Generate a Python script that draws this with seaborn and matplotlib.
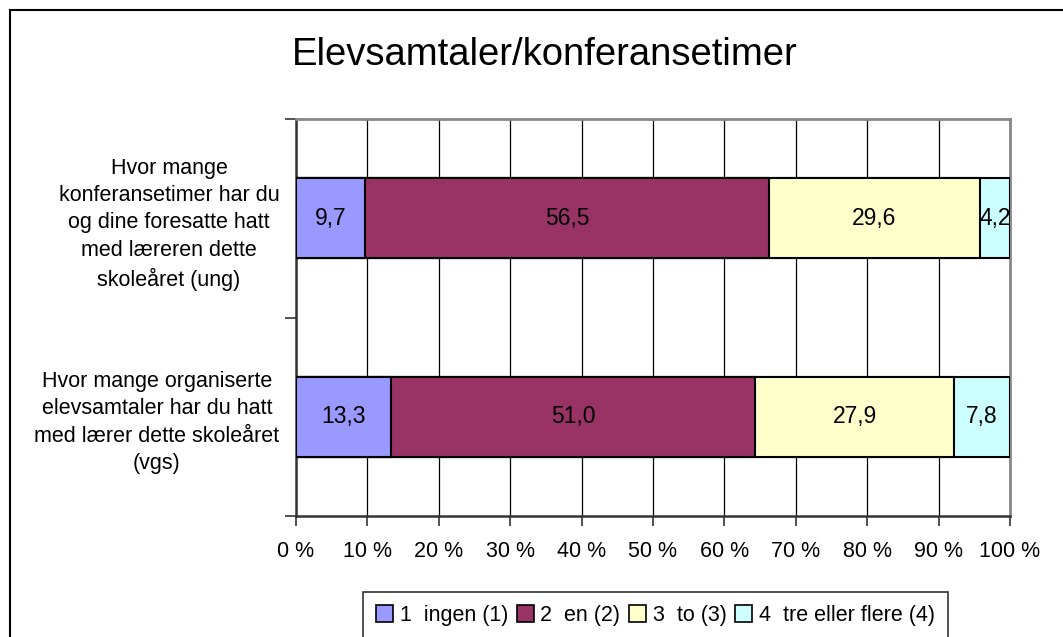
import numpy as np
import pandas as pd
import matplotlib.pyplot as plt
import matplotlib.patches as mpatches
import seaborn as sns

questions = [
    "Hvor mange\nkonferansetimer har du\nog dine foresatte hatt\nmed læreren dette\nskoleåret (ung)",
    "Hvor mange organiserte\nelevsamtaler har du hatt\nmed lærer dette skoleåret\n(vgs)",
]
answers = ["1  ingen (1)", "2  en (2)", "3  to (3)", "4  tre eller flere (4)"]
ingen = [9.7, 13.3]
en = [56.5, 51.0]
to = [29.6, 27.9]
tre = [4.2, 7.8]
colors = ["#9999FF", "#993366", "#FFFFCC", "#CCFFFF"]
xticks = [0, 10, 20, 30, 40, 50, 60, 70, 80, 90, 100]

sns.set_theme(style="white")
plt.rcParams['font.family'] = ['Liberation Sans', 'DejaVu Sans']
plt.rcParams['text.color'] = 'black'
plt.rcParams['xtick.color'] = 'black'
plt.rcParams['ytick.color'] = 'black'

values = np.array([ingen, en, to, tre])
cum = values.cumsum(axis=0)
df = pd.DataFrame({"question": np.tile(questions, 4),
                   "answer": np.repeat(answers, 2),
                   "value": values.ravel(),
                   "cum": cum.ravel()})

fig = plt.figure(figsize=(10.63, 6.37), dpi=100)
ax = fig.add_axes([296 / 1063, 1 - 516 / 637, (1010 - 296) / 1063, (516 - 119) / 637])

# stacked bars: draw cumulative totals from the largest down
for k in reversed(range(len(answers))):
    sub = df[df["answer"] == answers[k]]
    sns.barplot(data=sub, x="cum", y="question", color=colors[k], orient="h",
                width=0.405, edgecolor="black", linewidth=1.5, saturation=1,
                ax=ax, zorder=3)

for k in range(len(answers)):
    for i in range(len(questions)):
        v = values[k, i]
        mid = cum[k, i] - v / 2
        ax.text(mid, i, f"{v:.1f}".replace(".", ","), ha="center", va="center",
                fontsize=16.5, color="black", zorder=5)

ax.set_xlim(0, 100)
ax.set_ylim(1.5, -0.5)
ax.set_xticks(xticks)
ax.set_xticklabels([f"{t} %" for t in xticks], fontsize=15.5)
ax.set_yticks(range(len(questions)))
ax.set_yticklabels(questions, fontsize=15.5, multialignment="center", linespacing=1.4)
ax.set_yticks([-0.5, 0.5, 1.5], minor=True)
ax.tick_params(axis="y", which="major", length=0, pad=12)
ax.tick_params(axis="y", which="minor", length=8, width=1.2, color="#333333", left=True)
ax.tick_params(axis="x", length=7, width=1.2, color="#333333", bottom=True, pad=11)
ax.set_xlabel("")
ax.set_ylabel("")
ax.xaxis.grid(True, color="black", linewidth=0.9)
ax.set_axisbelow(True)
for s in ["left", "bottom"]:
    ax.spines[s].set_color("#333333")
    ax.spines[s].set_linewidth(1.8)
for s in ["top", "right"]:
    ax.spines[s].set_color("#888888")
    ax.spines[s].set_linewidth(2)

fig.text(545 / 1063, 1 - 55 / 637, "Elevsamtaler/konferansetimer", ha="center",
         va="center", fontsize=27.5)

handles = [mpatches.Patch(facecolor=c, edgecolor="black", linewidth=1.2) for c in colors]
leg = fig.legend(handles, answers, loc="upper left", ncol=4,
                 bbox_to_anchor=(363 / 1063, 1 - 592 / 637), fontsize=15.5,
                 frameon=True, fancybox=False, handlelength=0.8, handleheight=0.8,
                 handletextpad=0.3, columnspacing=0.4, borderpad=0.6,
                 borderaxespad=0)
leg.get_frame().set_edgecolor("black")
leg.get_frame().set_linewidth(1.2)

fig.patches.append(mpatches.Rectangle((10 / 1063, -0.1), 1.2, 1.1 - 10 / 637,
                                      transform=fig.transFigure, fill=False,
                                      edgecolor="black", linewidth=1.5))

fig.savefig("out.png", dpi=100)
